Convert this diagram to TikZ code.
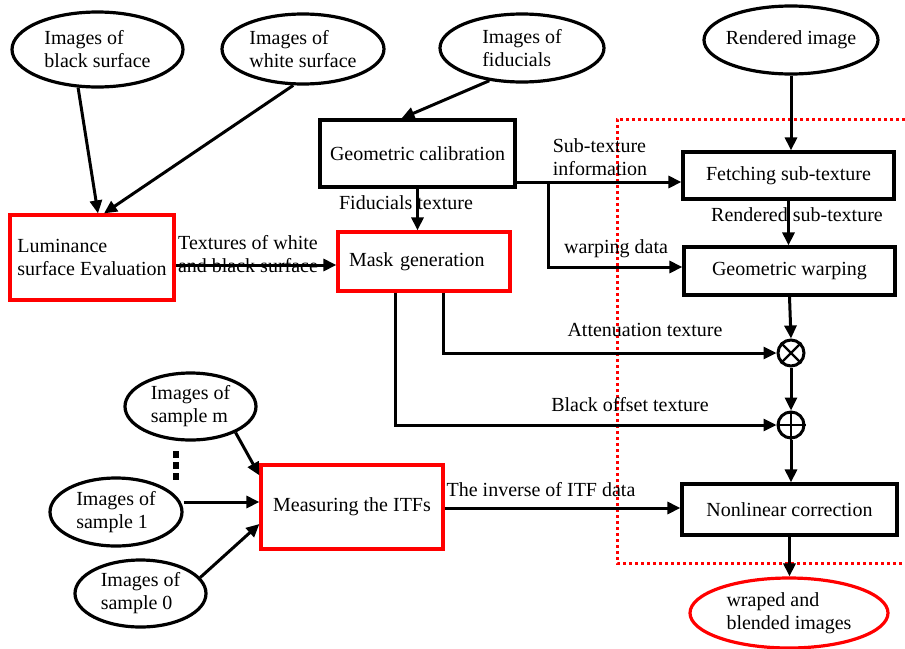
\documentclass[tikz,border=0pt]{standalone}
\usepackage{fontspec}
\setmainfont{Liberation Serif}
\usetikzlibrary{shapes.geometric,arrows.meta}
\begin{document}
\begin{tikzpicture}[x=1pt,y=-1pt,
  every node/.style={font=\fontsize{20}{23}\selectfont},
  box/.style={draw, line width=3.2pt, rectangle, inner sep=0pt, align=center},
  redbox/.style={box, draw=red},
  oval/.style={draw, ellipse, line width=3.2pt, inner sep=0pt, align=left},
  arr/.style={line width=3pt, -{Triangle[length=13pt,width=12pt]}},
  lbl/.style={inner sep=0pt, align=left},
  op/.style={draw, circle, line width=3pt, minimum size=26pt, inner sep=0pt},
]
\useasboundingbox (0,0) rectangle (905,648);

% ellipses
\node[oval, minimum width=171pt, minimum height=75pt] (e1) at (97.5,49.5) {Images of\\black surface};
\node[oval, minimum width=162pt, minimum height=70pt] (e2) at (303,49) {Images of\\white surface};
\node[oval, minimum width=164pt, minimum height=68pt] (e3) at (522,48) {Images of\\fiducials};
\node[oval, inner xsep=-8pt, minimum width=174pt, minimum height=68pt] (e4) at (791,40) {Rendered image};
\node[oval, minimum width=131pt, minimum height=67pt] (sm) at (190.5,406.5) {Images of\\sample m};
\node[oval, minimum width=132pt, minimum height=68pt] (s1) at (116,512) {Images of\\sample 1};
\node[oval, minimum width=131pt, minimum height=67pt] (s0) at (140.5,593.5) {Images of\\sample 0};
\node[oval, draw=red, minimum width=198pt, minimum height=70pt] (w) at (789,613) {wraped and\\blended images};

% boxes
\node[box, minimum width=195pt, minimum height=67pt] (geo) at (417.5,153.5) {Geometric calibration};
\node[redbox, minimum width=164pt, minimum height=85pt, align=left] (lum) at (92,257.5) {Luminance\\surface Evaluation};
\node[redbox, minimum width=172pt, minimum height=59pt, text width=150pt, align=left] (mask) at (424,261.5) {Mask generation};
\node[box, minimum width=211pt, minimum height=47pt] (fetch) at (788.5,175.5) {Fetching sub-texture};
\node[box, minimum width=211pt, minimum height=48pt] (warp) at (789.5,271) {Geometric warping};
\node[redbox, minimum width=182pt, minimum height=84pt] (meas) at (352,507) {Measuring the ITFs};
\node[box, minimum width=215pt, minimum height=51pt] (nl) at (789.5,509.5) {Nonlinear correction};

% operators
\node[op] (ot) at (791,353) {};
\draw[line width=2.2pt] (ot.north east) -- (ot.south west) (ot.north west) -- (ot.south east);
\node[op] (pl) at (791,425) {};
\draw[line width=2.2pt] (pl.north) -- (pl.south) (pl.east) -- (pl.west);

% dotted region
\draw[red, line width=3pt, dash pattern=on 3pt off 3pt] (905,119) -- (617,119) -- (617,563) -- (905,563);

% dots
\fill (173,451) rectangle (179,458);
\fill (173,462) rectangle (179,469);
\fill (173,473) rectangle (179,480);

% connectors
\draw[arr] (e1.-117) -- ([xshift=6pt]lum.north);
\draw[arr] (e2.-105) -- ([xshift=12pt]lum.north);
\draw[arr] (e3.225) -- ([xshift=-16pt]geo.north);
\draw[arr] (geo.south) -- (geo.south |- mask.north);
\node[lbl] (lfid) at (406,203) {Fiducials texture};
\draw[arr] ([yshift=-7.5pt]lum.east) -- (mask.west |- 0,265);
\node[lbl, align=center] (ltex) at (248,254) {Textures of white\\and black surface};
\draw[arr] (geo.east |- 0,182) -- (fetch.west |- 0,182);
\draw[arr] (548,182) -- (548,267) -- (warp.west |- 0,267);
\node[lbl] (lsub) at (600,157) {Sub-texture\\information};
\node[lbl] (lwarp) at (616,249) {warping data};
\draw[arr] (e4.south) -- (e4.south |- fetch.north);
\draw[arr] (fetch.south) -- (fetch.south |- warp.north);
\node[lbl] (lrend) at (797,215) {Rendered sub-texture};
\draw[arr] (warp.south) -- (ot.north);
\draw[arr] ([xshift=19pt]mask.south) |- (ot.west);
\node[lbl] (latt) at (645,330) {Attenuation texture};
\draw[arr] ([xshift=-29pt]mask.south) |- (pl.west);
\node[lbl] (lblk) at (630,405) {Black offset texture};
\draw[arr] (ot.south) -- (pl.north);
\draw[arr] (pl.south) -- (pl.south |- nl.north);
\draw[arr] ([yshift=-1pt]meas.east) -- ([yshift=-1pt]meas.east -| nl.west);
\node[lbl] (litf) at (541,490) {The inverse of ITF data};
\draw[arr] (nl.south) -- (nl.south |- w.north);
\draw[arr] (sm.-30) -- ([yshift=-12pt]meas.north west);
\draw[arr] (s1.east |- 0,502) -- (meas.west |- 0,502);
\draw[arr] (s0.15) -- ([yshift=-17pt]meas.west);
\end{tikzpicture}
\end{document}
